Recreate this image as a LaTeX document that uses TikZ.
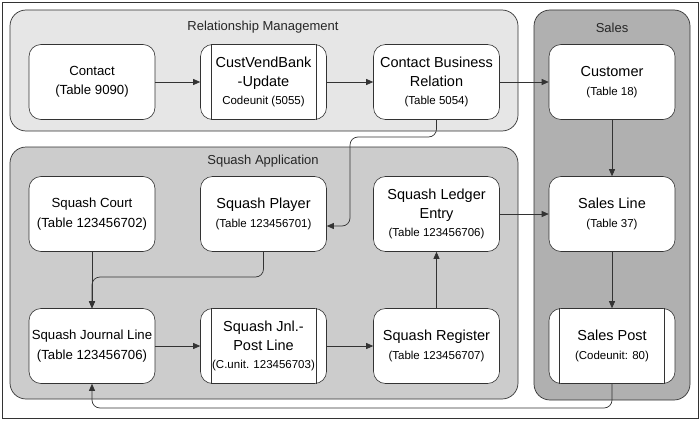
\documentclass[tikz,border=0pt]{standalone}
\usepackage{fontspec}
\setmainfont{Liberation Sans}
\usetikzlibrary{arrows.meta}
\definecolor{rmfill}{HTML}{E6E6E6}
\definecolor{safill}{HTML}{CCCCCC}
\definecolor{slfill}{HTML}{B0B0B0}
\definecolor{edge}{HTML}{333333}
\newcommand\subtxt[1]{{\fontsize{11.5}{13}\selectfont #1}}
\begin{document}
\begin{tikzpicture}[x=1pt,y=-1pt,
  box/.style={draw=edge, fill=white, line width=0.6pt, rounded corners=12pt,
    minimum width=126pt, minimum height=75pt, align=center,
    font=\fontsize{14.5}{18.5}\selectfont, inner sep=1pt},
  plainbox/.style={box, font=\fontsize{13.2}{19.5}\selectfont},
  grp/.style={draw=edge, line width=0.7pt, rounded corners=16pt},
  title/.style={font=\fontsize{13}{15}\selectfont, text=black!85},
  conn/.style={draw=edge, line width=0.7pt, rounded corners=8pt,
    -{Triangle[length=7pt,width=6pt]}},
  bar/.style={draw=edge, line width=0.6pt}
  ]
\useasboundingbox (0,0) rectangle (700,420);
\draw[fill=white, draw=edge, line width=0.8pt] (2,2) rectangle (698,418);

% groups
\draw[grp, fill=rmfill] (10,10) rectangle (518,131);
\draw[grp, fill=slfill] (534,10) rectangle (690,400);
\draw[grp, fill=safill] (10,147) rectangle (518,399);
\node[title] (trm) at (263,27) {Relationship Management};
\node[title] (tsl) at (612,28) {Sales};
\node[title] (tsa) at (263,161) {Squash Application};

% row 1
\node[plainbox] (contact) at (92,82) {Contact\\(Table 9090)};
\node[box] (cvb) at (263.5,82) {CustVendBank\\-Update\\\subtxt{Codeunit (5055)}};
\node[box] (cbr) at (436.5,82) {Contact Business\\Relation\\\subtxt{(Table 5054)}};
\node[box] (customer) at (612,82) {Customer\\\subtxt{(Table 18)}};
% row 2
\node[plainbox] (court) at (92,214) {Squash Court\\(Table 123456702)};
\node[box] (player) at (263.5,214) {Squash Player\\\subtxt{(Table 123456701)}};
\node[box] (ledger) at (436.5,214) {Squash Ledger\\Entry\\\subtxt{(Table 123456706)}};
\node[box] (salesline) at (612,214) {Sales Line\\\subtxt{(Table 37)}};
% row 3
\node[plainbox] (journal) at (92,346) {Squash Journal Line\\(Table 123456706)};
\node[box] (jnlpost) at (263.5,346) {Squash Jnl.-\\Post Line\\\subtxt{(C.unit. 123456703)}};
\node[box] (register) at (436.5,346) {Squash Register\\\subtxt{(Table 123456707)}};
\node[box] (salespost) at (612,346) {Sales Post\\\subtxt{(Codeunit: 80)}};

% codeunit bars
\foreach \n in {cvb,jnlpost,salespost}{
  \draw[bar] ([xshift=11pt]\n.north west) -- ([xshift=11pt]\n.south west);
  \draw[bar] ([xshift=-11pt]\n.north east) -- ([xshift=-11pt]\n.south east);
}

% connectors
\draw[conn] (contact) -- (cvb);
\draw[conn] (cvb) -- (cbr);
\draw[conn] (cbr) -- (customer);
\draw[conn] (cbr.south) |- (350,137) |- ([yshift=-12pt]player.east);
\draw[conn] (customer) -- (salesline);
\draw[conn] (salesline) -- (salespost);
\draw[conn] (ledger) -- (salesline);
\draw[conn] (register) -- (ledger);
\draw[conn] (journal) -- (jnlpost);
\draw[conn] (jnlpost) -- (register);
\draw[conn] (court) -- (journal);
\draw[conn] (player.south) |- (92,277) -- (journal.north);
\draw[conn] (salespost.south) |- (92,408) -- (journal.south);
\end{tikzpicture}
\end{document}
